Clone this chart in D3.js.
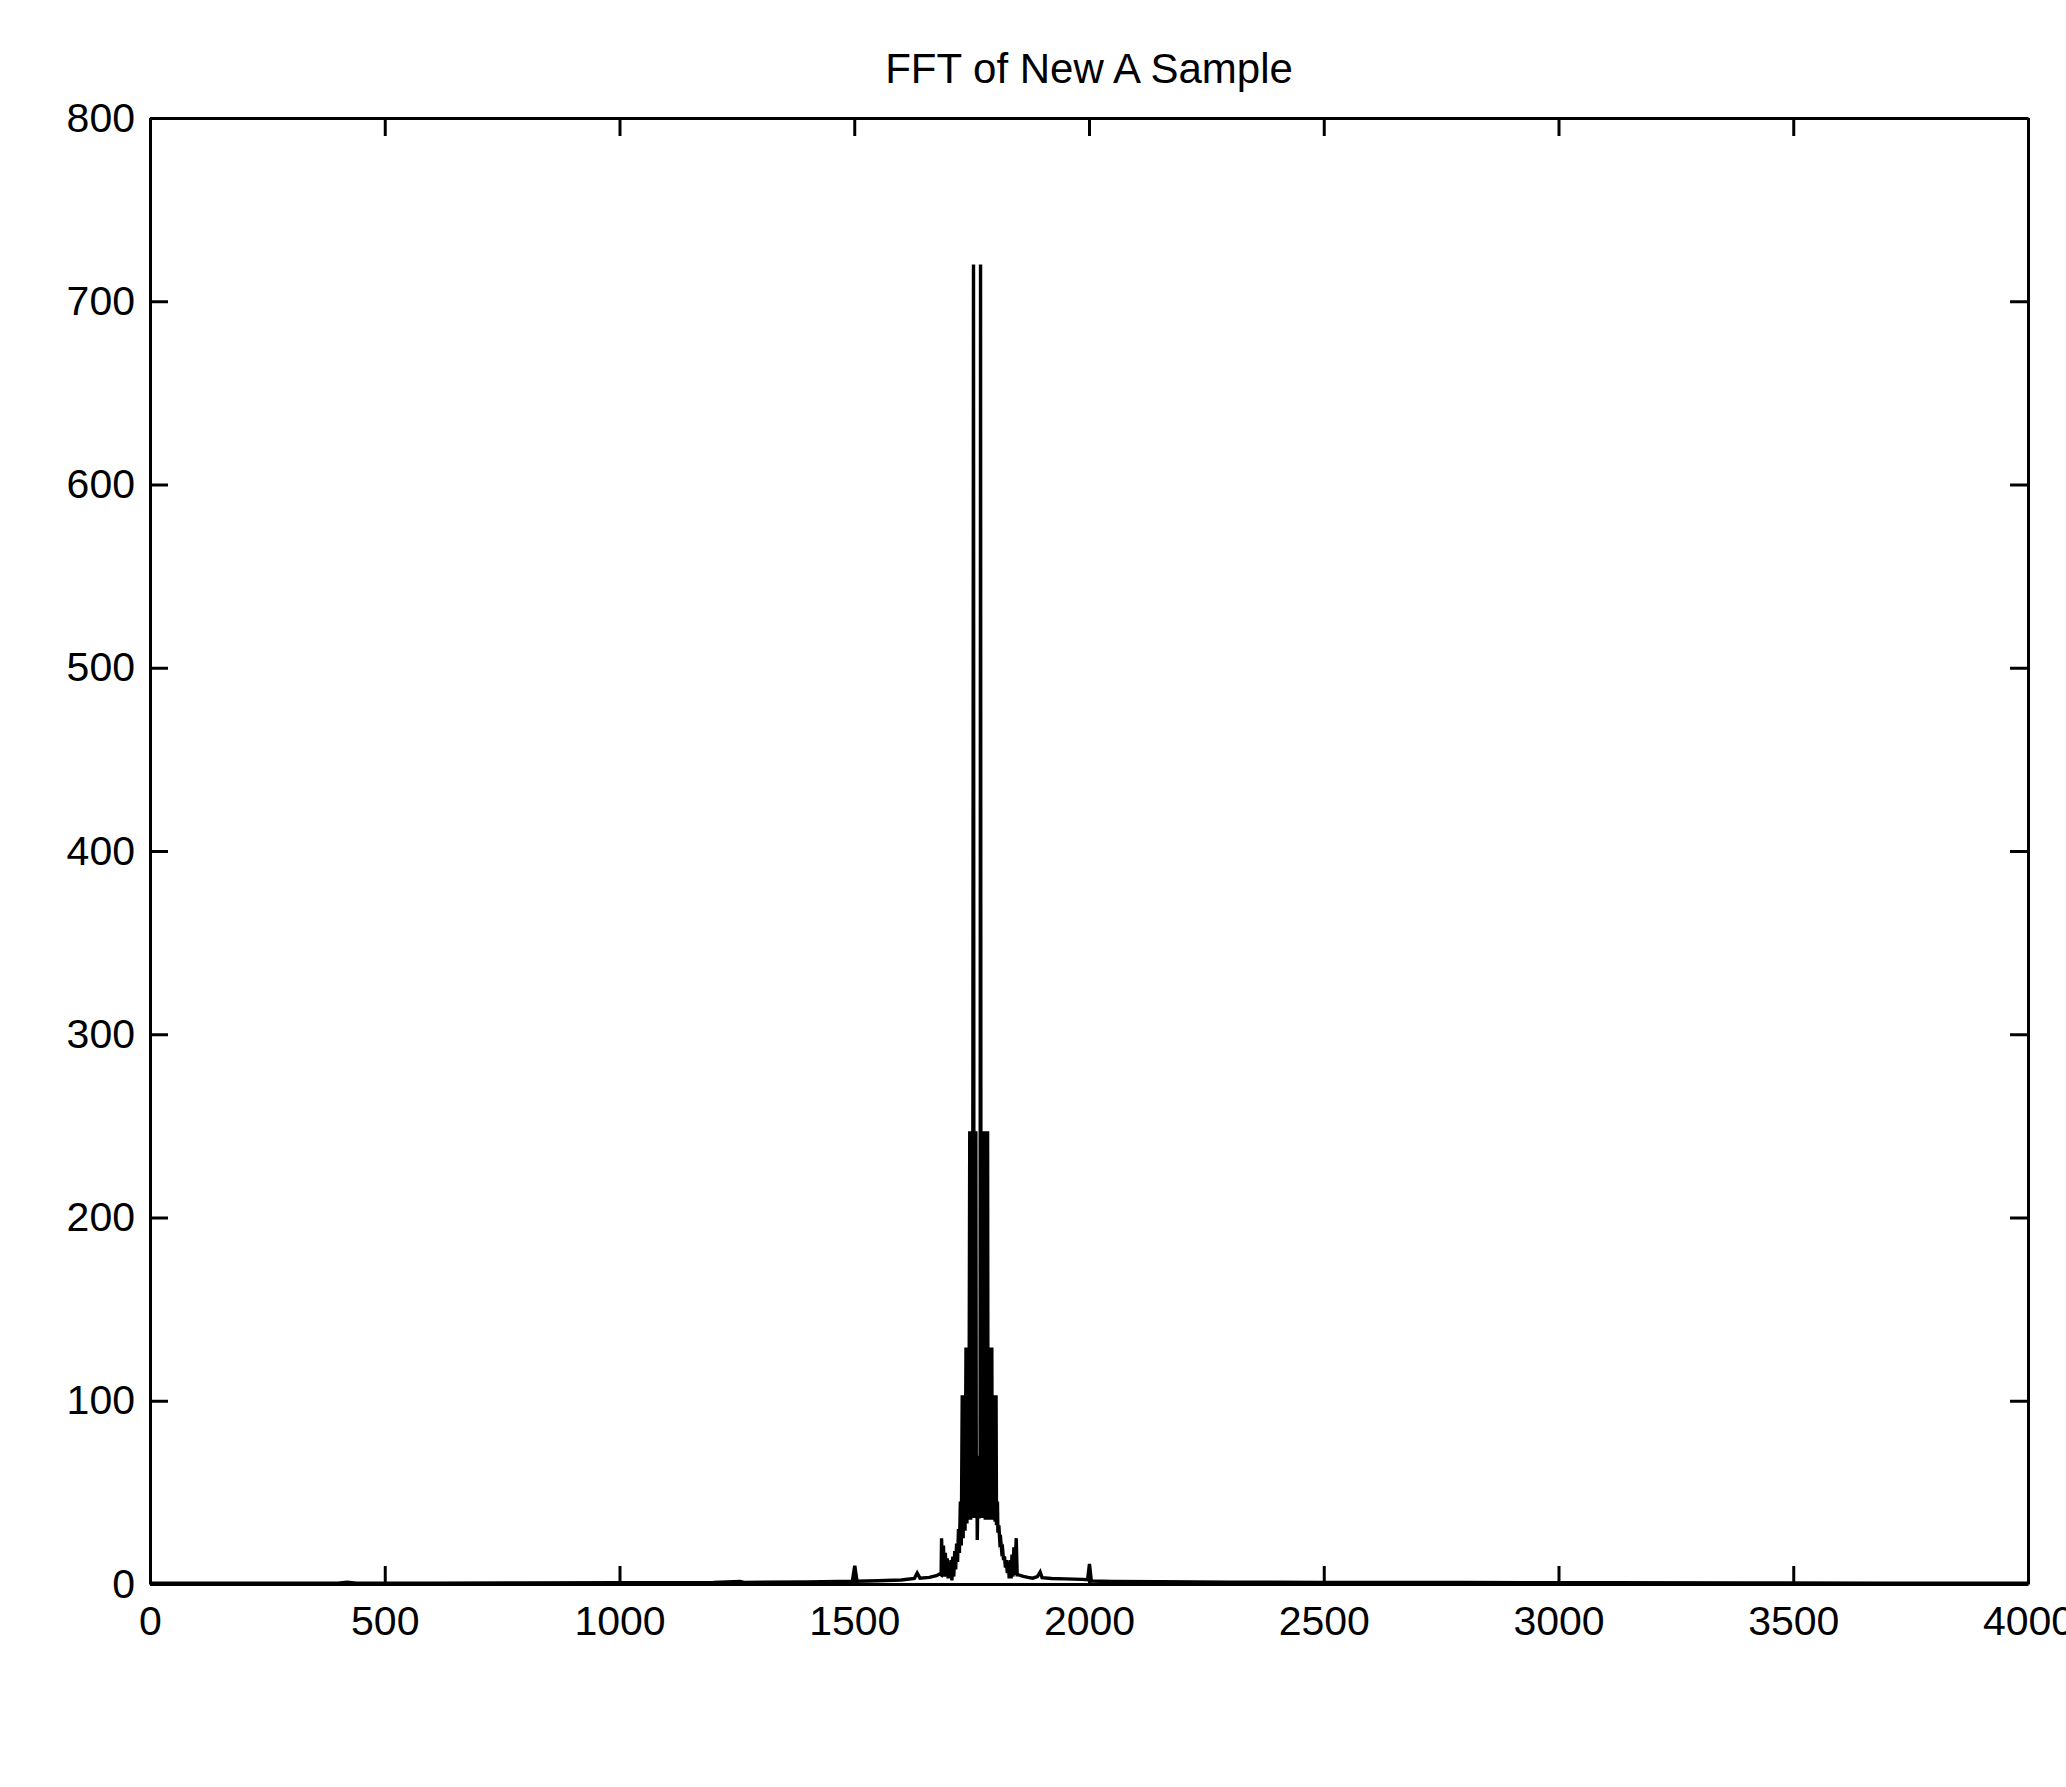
<!DOCTYPE html>
<html>
<head>
<meta charset="utf-8">
<script src="https://cdn.jsdelivr.net/npm/d3@7"></script>
<style>
  html, body { margin: 0; padding: 0; background: #fff; }
  svg { display: block; }
  .axis text { font-family: "Liberation Sans", Arial, sans-serif; font-size: 41px; fill: #000; }
  .axis path, .axis line { stroke: #000; stroke-width: 3; }
</style>
</head>
<body>
<svg id="chart"></svg>
<script>
'use strict';

var titleText = 'FFT of New A Sample';
var xTicks = [0, 500, 1000, 1500, 2000, 2500, 3000, 3500, 4000];
var yTicks = [0, 100, 200, 300, 400, 500, 600, 700, 800];

// frequency (Hz) and magnitude
var freq = [
  0, 100, 200, 300, 400, 420, 440, 600, 800, 1000, 1200, 1257, 1265, 1400,
  1496, 1501, 1506, 1550, 1600, 1628, 1634, 1640, 1660, 1675, 1682,
  1685, 1686, 1688, 1690, 1692, 1694, 1696, 1698, 1700, 1702, 1704, 1706, 1708,
  1710, 1712, 1714, 1716, 1718, 1720, 1722, 1724, 1726, 1728, 1730, 1732, 1734,
  1736, 1738, 1740, 1742, 1744, 1746, 1748, 1750, 1752, 1754, 1755, 1757, 1758,
  1759, 1760, 1761, 1762, 1764, 1766, 1768, 1769, 1770, 1772, 1773, 1775, 1776,
  1778, 1779, 1781, 1782, 1784, 1785, 1787, 1788, 1790, 1791, 1793, 1794, 1796,
  1797, 1799, 1800, 1802, 1803, 1805, 1806, 1808, 1810, 1812, 1814, 1816, 1818,
  1820, 1822, 1824, 1826, 1828, 1830, 1832, 1834, 1836, 1838, 1840, 1842, 1845,
  1847, 1850, 1860, 1870, 1880, 1890, 1896, 1900, 1920, 1950, 1985, 1997, 2001,
  2005, 2050, 2150, 2300, 2500, 2800, 3100, 3400, 3700, 3950, 4000
];
var mag = [
  0.4, 0.4, 0.4, 0.5, 0.5, 1.0, 0.5, 0.5, 0.6, 0.7, 0.8, 1.4, 0.9, 1.1,
  1.5, 10, 1.5, 1.8, 2.2, 3, 6, 3.2, 3.6, 4.5, 5.5,
  5, 25, 5, 21, 4, 17, 4, 14, 3, 12, 3, 13, 2,
  15, 4, 18, 8, 22, 12, 30, 17, 45, 21, 103, 25, 103,
  29, 129, 33, 129, 35, 247, 35, 247, 36, 720, 36, 247, 37,
  247, 36, 70, 24, 60, 36, 38, 720, 36, 247, 36, 247, 36,
  247, 35, 247, 35, 247, 35, 129, 35, 129, 35, 129, 35, 103,
  35, 103, 34, 103, 32, 45, 28, 32, 23, 24, 18, 19, 13,
  15, 9, 13, 6, 12, 3, 13, 3, 16, 4, 20, 5, 25,
  5, 5, 4.2, 3.6, 3.2, 4, 6.5, 3.5, 3, 2.8, 2.5, 2.3, 11,
  1.6, 1.4, 1.2, 1.0, 0.9, 0.8, 0.7, 0.6, 0.5, 0.4, 0.4
];

var W = 2066, H = 1787,
  plotLeft = 150, plotRight = 2028, plotTop = 118, plotBottom = 1584,
  tickLen = 18;

var svg = d3.select('#chart').attr('width', W).attr('height', H);

var x = d3.scaleLinear().domain([0, 4000]).range([plotLeft, plotRight]);
var y = d3.scaleLinear().domain([0, 800]).range([plotBottom, plotTop]);

var points = freq.map(function (f, i) { return [f, mag[i]]; });

svg.append('path')
  .datum(points)
  .attr('fill', 'none')
  .attr('stroke', '#000')
  .attr('stroke-width', 3.4)
  .attr('stroke-linejoin', 'miter')
  .attr('d', d3.line().x(function (d) { return x(d[0]); }).y(function (d) { return y(d[1]); }));

svg.append('g').attr('class', 'axis')
  .attr('transform', 'translate(0,' + plotBottom + ')')
  .call(d3.axisBottom(x).tickValues(xTicks).tickSizeInner(-tickLen).tickSizeOuter(0).tickPadding(22).tickFormat(d3.format('d')));

svg.append('g').attr('class', 'axis')
  .attr('transform', 'translate(0,' + plotTop + ')')
  .call(d3.axisTop(x).tickValues(xTicks).tickSizeInner(-tickLen).tickSizeOuter(0).tickFormat(''));

svg.append('g').attr('class', 'axis')
  .attr('transform', 'translate(' + plotLeft + ',0)')
  .call(d3.axisLeft(y).tickValues(yTicks).tickSizeInner(-tickLen).tickSizeOuter(0).tickPadding(15).tickFormat(d3.format('d')));

svg.append('g').attr('class', 'axis')
  .attr('transform', 'translate(' + plotRight + ',0)')
  .call(d3.axisRight(y).tickValues(yTicks).tickSizeInner(-tickLen).tickSizeOuter(0).tickFormat(''));

svg.append('text')
  .attr('x', (plotLeft + plotRight) / 2)
  .attr('y', 83)
  .attr('text-anchor', 'middle')
  .style('font-family', '"Liberation Sans", Arial, sans-serif')
  .style('font-size', '42px')
  .text(titleText);
</script>
</body>
</html>
